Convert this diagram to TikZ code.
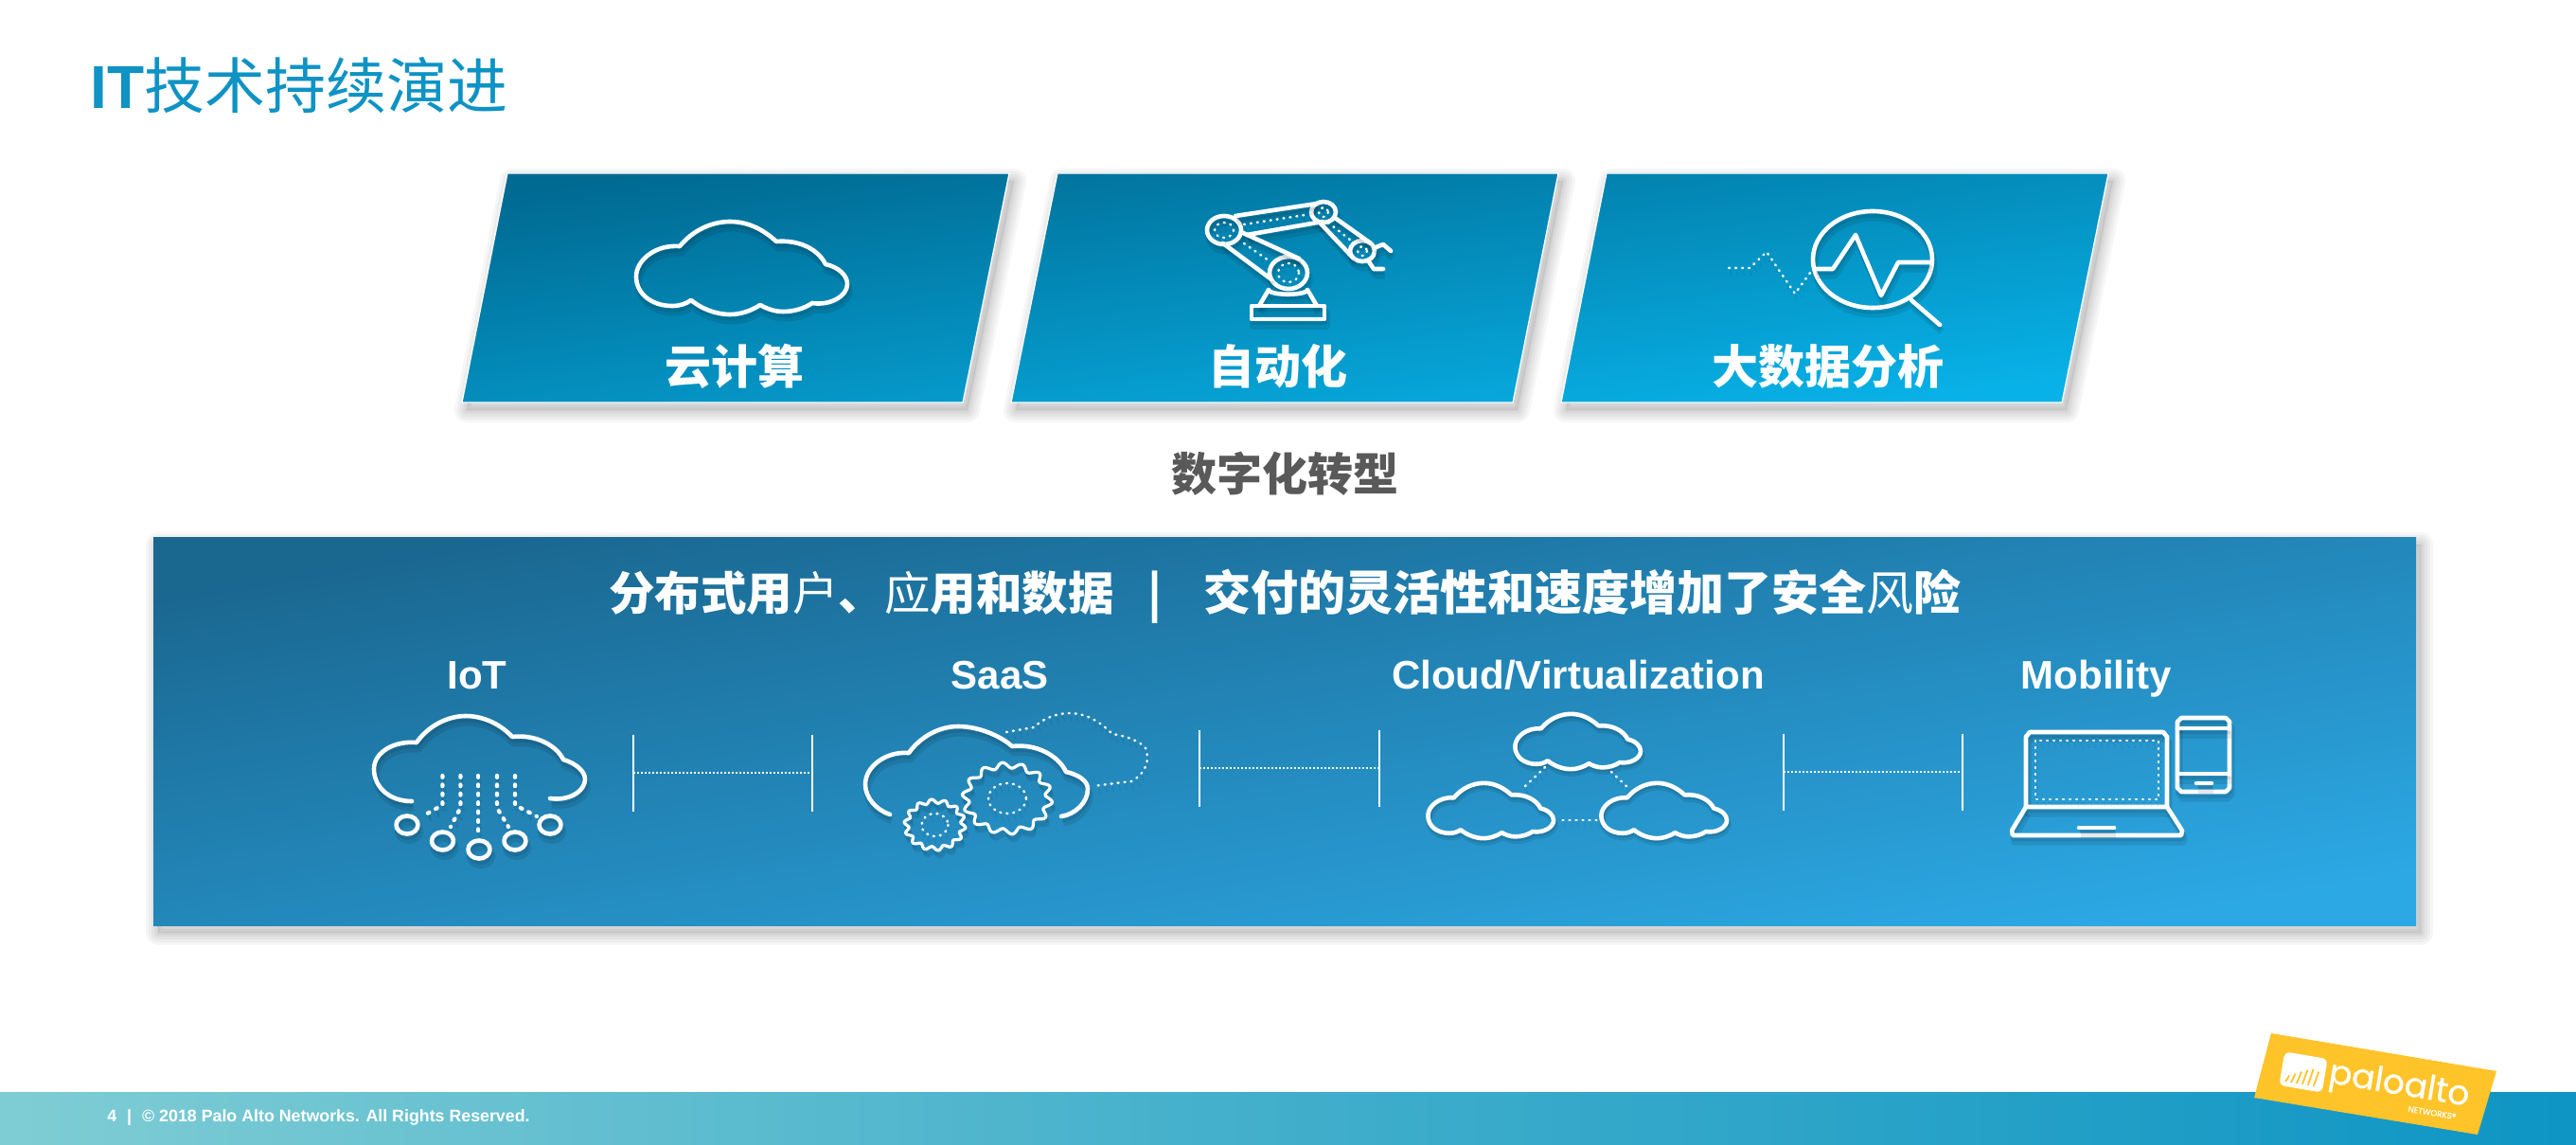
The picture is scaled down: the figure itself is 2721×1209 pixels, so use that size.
\documentclass[tikz,border=0pt]{standalone}
\usepackage{fontspec}
\setmainfont{Liberation Sans}
\newfontfamily\cjk{Noto Sans CJK SC}
\newfontfamily\logofont[FakeBold=0.5]{Poppins}
\newcommand\fsz[1]{\fontsize{#1}{#1}\selectfont}
\definecolor{titleblue}{HTML}{0E93C4}
\definecolor{midgray}{HTML}{595959}
\definecolor{logoyellow}{HTML}{FFC429}
\definecolor{cardA}{HTML}{006A92}
\definecolor{cardB}{HTML}{08B2E8}
\definecolor{panelA}{HTML}{1A6790}
\definecolor{panelB}{HTML}{2CA8E4}
\definecolor{footA}{HTML}{7FCDD4}
\definecolor{footB}{HTML}{0E95C4}
\tikzset{
  iconline/.style={draw=white,line width=2.3pt,line join=round,line cap=round},
  softa/.style={draw=black,opacity=.09,line width=3.6pt,line join=round},
  softb/.style={draw=black,opacity=.09,line width=2.4pt,line join=round},
  dotline/.style={dash pattern=on .5pt off 3pt,line width=1.25pt},
  iotdots/.style={dash pattern=on .9pt off 3.8pt,line width=2.1pt},
  tightdots/.style={draw=white,line width=1.3pt,dash pattern=on 1pt off 1pt},
  seprule/.style={draw=white,line width=1pt},
  cardlabel/.style={text=white,font=\cjk\bfseries\fsz{24.5},inner sep=0pt},
  itemlabel/.style={text=white,font=\bfseries\fsz{21},inner sep=0pt,anchor=base},
}
\newcommand\glow[2][]{%
  \draw[softa,#1,shift={(2,7)}] #2;
  \draw[softb,#1,shift={(1,4)}] #2;
  \draw[iconline,#1] #2;}
\newcommand\softdrop[1]{%
  \begin{scope}[shift={(5,8)}]
  \foreach \w in {13,10,7,4,1.5}{\path[draw=black,fill=black,draw opacity=.035,fill opacity=.012,line width=\w pt,line join=round] #1;}
  \end{scope}}
\def\cloudpath{(-66,-23) .. controls (-52,-40) and (-32,-49) .. (-13,-49) .. controls (8,-49) and (24,-39) .. (36,-28) .. controls (60,-30) and (80,-20) .. (88,-4) .. controls (102,-1) and (111,8) .. (111,17) .. controls (111,30) and (92,40) .. (74,37) .. controls (65,43) and (54,46) .. (43,46) .. controls (34,46) and (26,43) .. (19,39) .. controls (8,46) and (-3,49) .. (-13,49) .. controls (-28,49) and (-43,43) .. (-54,34) .. controls (-60,38) and (-66,40) .. (-74,40) .. controls (-96,40) and (-112,27) .. (-112,9) .. controls (-112,-8) and (-92,-25) .. (-66,-23) -- cycle}
\newcommand\cloudat[3]{\begin{scope}[shift={(#1,#2)},scale=#3]\glow{\cloudpath}\end{scope}}
\newcommand\gearpath[4]{plot[variable=\t,domain=0:360,samples=169] ({#1+#3*(1+.085*sin(14*\t))*cos(\t)},{#2+#4*(1+.085*sin(14*\t))*sin(\t)}) -- cycle}
\begin{document}
\begin{tikzpicture}[x=.5pt,y=-.5pt]
\useasboundingbox (0,0) rectangle (2721,1209);
\fill[white] (0,0) rectangle (2721,1209);
% title
\node[anchor=west,inner sep=0pt,text=titleblue] (title) at (95,90) {\bfseries\fsz{32}IT\mdseries\cjk 技术持续演进};
% cards
\def\cardone{(536,183) -- (1066,183) -- (1017,425) -- (488,425) -- cycle}
\def\cardtwo{(1117,183) -- (1646,183) -- (1598,425) -- (1068,425) -- cycle}
\def\cardthree{(1697,183) -- (2227,183) -- (2178,425) -- (1649,425) -- cycle}
\softdrop{\cardone}\softdrop{\cardtwo}\softdrop{\cardthree}
\begin{scope}
\clip \cardone \cardtwo \cardthree;
\shade[top color=cardA,bottom color=cardB,shading angle=8] (488,183) rectangle (2227,425);
\end{scope}
\draw[white,line width=.6pt] \cardone;\draw[white,line width=.6pt] \cardtwo;\draw[white,line width=.6pt] \cardthree;
\node[cardlabel] (cloudlabel) at (776,387) {云计算};
\node[cardlabel] (autolabel) at (1350,387) {自动化};
\node[cardlabel] (datalabel) at (1931,387) {大数据分析};
\cloudat{784}{283}{1}
% robot arm
\glow{(1293,243) ellipse [x radius=18,y radius=15]}
\glow{(1398,224) ellipse [x radius=13,y radius=11]}
\glow{(1439,265) ellipse [x radius=13,y radius=11]}
\glow{(1361,288) ellipse [x radius=20,y radius=17]}
\glow{(1305,228) -- (1391,215)}
\glow{(1317,248) -- (1397,234)}
\glow{(1410,230) -- (1448,257)}
\glow{(1394,235) -- (1429,272)}
\glow{(1311,245) -- (1372,273)}
\glow{(1292,257) -- (1343,295)}
\glow[dotline]{(1314,237) -- (1378,227)}
\glow[dotline]{(1403,235) -- (1431,257)}
\glow[dotline]{(1314,257) -- (1340,275)}
\glow[dotline]{(1293,243) ellipse [x radius=10,y radius=8]}
\glow[dotline]{(1361,288) ellipse [x radius=11,y radius=10]}
\glow[dotline]{(1398,224) ellipse [x radius=5,y radius=5]}
\glow[dotline]{(1439,265) ellipse [x radius=5,y radius=5]}
\glow{(1340,306) -- (1330,323)}
\glow{(1381,306) -- (1391,323)}
\glow{(1340,307) .. controls (1346,312) and (1375,312) .. (1381,307)}
\glow{(1322,323) rectangle (1399,337)}
\glow{(1451,262) -- (1461,258) -- (1469,265)}
\glow{(1445,275) -- (1451,284) -- (1461,284)}
% magnifier
\glow{(1978,274) ellipse [x radius=63,y radius=51]}
\glow{(2019,317) -- (2049,343)}
\glow{(1917,284) -- (1936,284) -- (1960,248) -- (1987,312) -- (2005,277) -- (2039,277)}
\glow[dotline]{(1826,283) -- (1848,283) -- (1866,266) -- (1896,310) -- (1912,288)}
% middle label
\node[inner sep=0pt,text=midgray,font=\cjk\bfseries\fsz{24}] (midlabel) at (1357,500) {数字化转型};
% panel
\def\panelpath{(162,567) rectangle (2552,977)}
\softdrop{\panelpath}
\shade[top color=panelA,bottom color=panelB,shading angle=9.7] \panelpath;
\node[anchor=west,inner sep=0pt,text=white] (headline) at (643,630) {\cjk\bfseries\fsz{24.25}分布式用{\mdseries 户}、{\mdseries 应}用和数据\hspace{18pt}|\hspace{22pt}\fsz{25}交付的灵活性和速度增加了安全{\mdseries 风}险};
\node[itemlabel] (iot) at (504,727) {IoT};
\node[itemlabel] (saas) at (1056,727) {SaaS};
\node[itemlabel] (virt) at (1667,727) {Cloud/Virtualization};
\node[itemlabel] (mob) at (2214,727) {Mobility};
% separators
\foreach \n/\xa/\xb/\ya/\yb/\ym in {a/669/858/776/857/816,b/1267/1457/771/852/811,c/1883.5/2073/775/856/815}{
  \coordinate (\n ta) at (\xa,\ya); \coordinate (\n ba) at (\xa,\yb); \coordinate (\n ma) at (\xa,\ym);
  \coordinate (\n tb) at (\xb,\ya); \coordinate (\n bb) at (\xb,\yb); \coordinate (\n mb) at (\xb,\ym);
  \draw[seprule] (\n ta) -- (\n ba);
  \draw[seprule] (\n tb) -- (\n bb);
  \draw[tightdots] (\n ma) -- (\n mb);
}
% IoT icon
\glow{(435,846) .. controls (410,846) and (395,830) .. (395,812) .. controls (395,795) and (415,782) .. (440,784) .. controls (452,767) and (472,756) .. (492,756) .. controls (512,756) and (530,766) .. (541,778) .. controls (565,775) and (588,787) .. (595,802) .. controls (608,806) and (618,814) .. (618,823) .. controls (618,836) and (600,846) .. (581,843)}
\foreach \xa/\ya/\xb/\yb in {467.4/850/446/862,486.4/853/476/873,505.3/880/505.3/880,525/853/537/873,544/850/567/862}{
  \glow[iotdots]{(\xa,819) -- (\xa,\ya) -- (\xb,\yb)}
}
\foreach \cx/\cy in {430/871,467.5/888,506/897,544/888,581/871}{
  \glow{(\cx,\cy) ellipse [x radius=11.5,y radius=9.5]}
}
% SaaS icon
\glow[dotline]{(1063,773) -- (1092,768) .. controls (1100,760) and (1115,753) .. (1129,753) .. controls (1150,753) and (1165,765) .. (1175,775) .. controls (1190,777) and (1205,783) .. (1210,790) .. controls (1214,800) and (1213,815) .. (1195,825) -- (1178,827) -- (1155,830)}
\glow{(940,860) .. controls (925,855) and (914,842) .. (914,828) .. controls (914,810) and (935,793) .. (960,795) .. controls (972,778) and (992,767) .. (1012,767) .. controls (1035,767) and (1058,778) .. (1069,788) .. controls (1095,785) and (1118,798) .. (1126,815) .. controls (1140,818) and (1149,825) .. (1149,833) .. controls (1149,848) and (1135,860) .. (1121,862)}
\glow[line width=1.6pt]{\gearpath{1064}{843}{44}{35}}
\glow[line width=1.6pt]{\gearpath{987.5}{871}{30}{25}}
\glow[dotline]{(1064,843) ellipse [x radius=20,y radius=16]}
\glow[dotline]{(987.5,871) ellipse [x radius=14,y radius=12]}
% Cloud/Virtualization icon
\cloudat{1667}{783}{.595}
\cloudat{1575}{856}{.595}
\cloudat{1758}{856}{.595}
\glow[dotline]{(1632,810) -- (1608,833)}
\glow[dotline]{(1702,815) -- (1721,833)}
\glow[dotline]{(1650.5,866) -- (1691,866)}
% Mobility icon
\glow{(2140,852) -- (2140,778) -- (2144,773) -- (2285,773) -- (2289,778) -- (2289,852) -- cycle}
\glow[dotline,line width=1.1pt]{(2150,782) rectangle (2280,844)}
\glow{(2140,852) -- (2125,877) -- (2126,882) -- (2304,882) -- (2305,877) -- (2289,852)}
\glow{(2196,874) -- (2233,874)}
\glow{(2304,758) -- (2351,758) -- (2355,762) -- (2355,832) -- (2351,836) -- (2304,836) -- (2300,832) -- (2300,762) -- cycle}
\glow{(2300,769) -- (2355,769)}
\glow{(2300,817) -- (2355,817)}
\glow{(2320,827) -- (2336,827)}
% footer
\shade[left color=footA,right color=footB,middle color=footB!55!footA] (0,1153) rectangle (2721,1209);
\node[anchor=west,inner sep=0pt,text=white,font=\bfseries\fsz{8.9}] (foot) at (113,1180) {4\hspace{3pt} |\hspace{3pt} © 2018 Palo Alto Networks. All Rights Reserved.};
% logo
\fill[logoyellow] (2399,1091) -- (2637,1131) -- (2617,1198) -- (2381,1159) -- cycle;
\begin{scope}[shift={(2433,1132)},rotate=-9.5]
\fill[white,rounded corners=3pt] (-23,-18) rectangle (23,18);
\foreach \dx/\h in {-15/-6,-9/-3,-3/0,3/3,9/5,15/3}{
  \draw[logoyellow,line width=.9pt] (\dx-2,13) -- (\dx+1,-\h);
}
\end{scope}
\node[inner sep=0pt,text=white,rotate=-9.5,font=\logofont\fsz{18}] (logoname) at (2534,1147) {paloalto};
\node[inner sep=0pt,text=white,rotate=-9.5,font=\logofont\fsz{4.4}] (logosub) at (2569,1175) {NETWORKS®};
\end{tikzpicture}
\end{document}
